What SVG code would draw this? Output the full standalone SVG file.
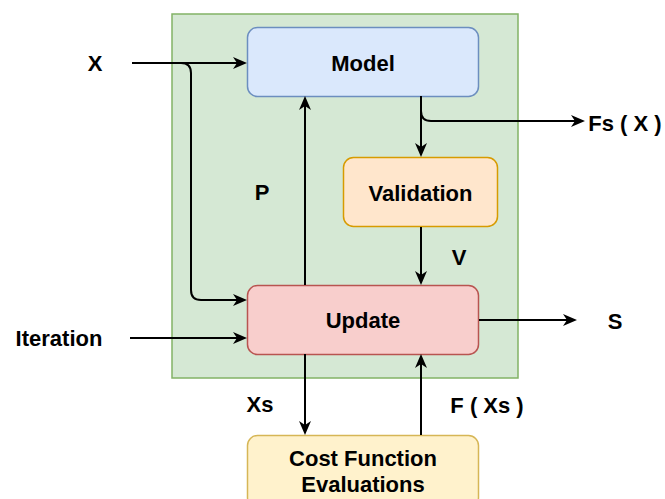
<svg xmlns="http://www.w3.org/2000/svg" width="665" height="499" viewBox="0 0 665 499">
  <style>
    .lbl { font-family: "Liberation Sans", Arial, Helvetica, sans-serif; font-weight: bold; font-size: 22px; fill: #000; text-anchor: middle; }
    .edge { fill: none; stroke: #000; stroke-width: 2; }
    .box { stroke-width: 1.5; }
  </style>
  <defs>
    <marker id="arrow" markerUnits="userSpaceOnUse" markerWidth="15" markerHeight="13" refX="4" refY="6.5" orient="auto">
      <path d="M0,0.5 L14,6.5 L0,12.5 L4,6.5 Z" fill="#000"/>
    </marker>
  </defs>

  <rect width="665" height="499" fill="#ffffff"/>

  <!-- container -->
  <g id="container">
    <rect x="172" y="14" width="346" height="364" fill="#d5e8d4" stroke="#82b366" class="box"/>
  </g>

  <!-- nodes -->
  <g id="model">
    <rect x="247.5" y="27.5" width="231" height="69" rx="10" fill="#dae8fc" stroke="#6c8ebf" class="box"/>
    <text x="363" y="71" class="lbl">Model</text>
  </g>
  <g id="validation">
    <rect x="343.5" y="157.5" width="154" height="69" rx="10" fill="#ffe6cc" stroke="#d79b00" class="box"/>
    <text x="420.5" y="201" class="lbl">Validation</text>
  </g>
  <g id="update">
    <rect x="247.5" y="285.5" width="231" height="69" rx="10" fill="#f8cecc" stroke="#b85450" class="box"/>
    <text x="363" y="328" class="lbl">Update</text>
  </g>
  <g id="cost">
    <rect x="247.5" y="435.5" width="231" height="72" rx="10" fill="#fff2cc" stroke="#d6b656" class="box"/>
    <text x="363" y="466" class="lbl">Cost Function</text>
    <text x="363" y="492" class="lbl">Evaluations</text>
  </g>

  <!-- connectors -->
  <g id="connectors">
    <path class="edge" d="M132,63 H237" marker-end="url(#arrow)"/>
    <path class="edge" d="M132,63 H181 Q191,63 191,73 V290 Q191,300 201,300 H237" marker-end="url(#arrow)"/>
    <path class="edge" d="M130,338 H237" marker-end="url(#arrow)"/>
    <path class="edge" d="M305,285 V106" marker-end="url(#arrow)"/>
    <path class="edge" d="M421,96 V147" marker-end="url(#arrow)"/>
    <path class="edge" d="M421,96 V111 Q421,121 431,121 H575" marker-end="url(#arrow)"/>
    <path class="edge" d="M421,227 V275" marker-end="url(#arrow)"/>
    <path class="edge" d="M479,320 H567" marker-end="url(#arrow)"/>
    <path class="edge" d="M305,354 V425" marker-end="url(#arrow)"/>
    <path class="edge" d="M421,435 V364" marker-end="url(#arrow)"/>
  </g>

  <!-- free labels -->
  <g id="labels">
    <text x="95" y="71" class="lbl">X</text>
    <text x="625" y="131" class="lbl">Fs ( X )</text>
    <text x="262" y="200" class="lbl">P</text>
    <text x="459" y="265" class="lbl">V</text>
    <text x="615" y="329" class="lbl">S</text>
    <text x="59" y="346" class="lbl">Iteration</text>
    <text x="260" y="412" class="lbl">Xs</text>
    <text x="487" y="413" class="lbl">F ( Xs )</text>
  </g>
</svg>
